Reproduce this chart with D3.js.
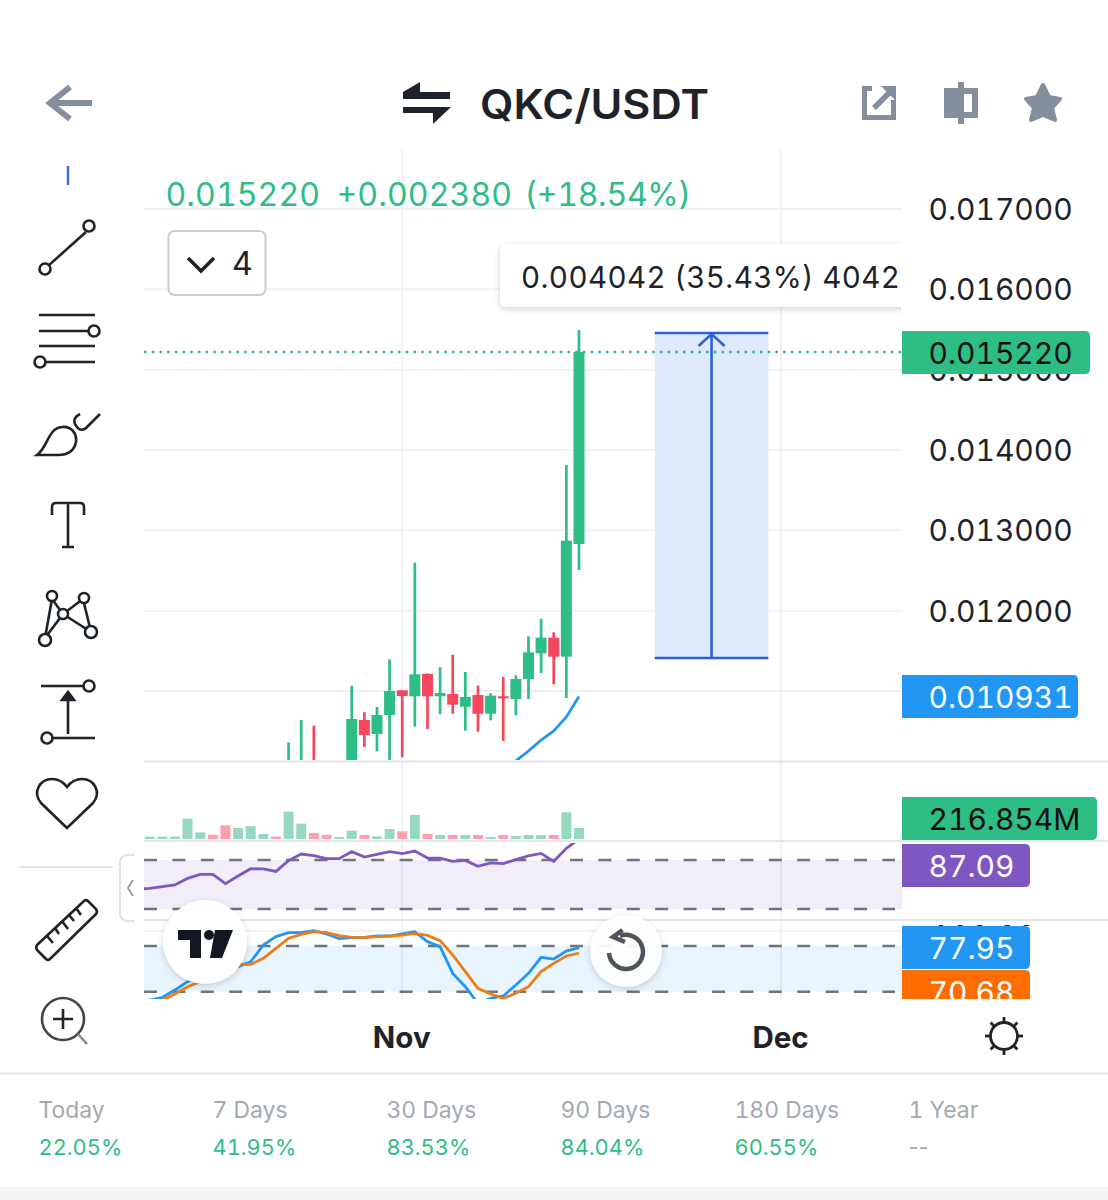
<!DOCTYPE html>
<html><head><meta charset="utf-8">
<script src="https://cdn.jsdelivr.net/npm/d3@7"></script>
<style>html,body{margin:0;padding:0;background:#fff}svg{display:block}text{font-family:Inter,"Noto Sans",sans-serif;font-variant-numeric:tabular-nums}</style>
</head><body><svg id="c" width="1108" height="1200"></svg>
<script>
// ---- data ----
const symbol = "QKC/USDT";
const headerParts = ["0.015220","+0.002380","(+18.54%)"];
const measureText = "0.004042 (35.43%) 4042";
const candleIndex = [11,12,13,16,17,18,19,20,21,22,23,24,25,26,27,28,29,30,31,32,33,34];
const opens  = [.0100,.0100,.0105,.0100,.010639,.010465,.010701,.011009,.010934,.011212,.010934,.010963,.010804,.010950,.010717,.010934,.010900,.011149,.011469,.011664,.011427,.012830];
const closes = [.0101,.0102,.0101,.010651,.010452,.010701,.011000,.010938,.011208,.010934,.010975,.010830,.010925,.010717,.010942,.010909,.011149,.011482,.011664,.011427,.012871,.015220];
const highs  = [.010361,.010639,.010568,.011066,.010735,.010801,.011395,.011009,.012597,.011220,.011295,.011452,.011237,.011066,.010971,.011174,.011195,.011681,.011900,.011731,.013813,.015494];
const lows   = [.0099,.0099,.0099,.0099,.010303,.010249,.0099,.010175,.010556,.010527,.010710,.010717,.010506,.010493,.010635,.010378,.010698,.010900,.011224,.011083,.010913,.012506];
const emaIndex = [29,30,31,32,33,34];
const emaValues = [.010129,.010253,.010390,.010502,.010676,.010931];
const volumes = [46,46,46,400,131,85,269,217,256,99,46,539,302,118,85,39,164,79,53,197,151,473,99,79,79,79,79,39,79,59,79,79,79,526,216.854];
const volumeUp = [1,1,1,1,1,0,0,1,1,1,0,1,1,0,0,1,1,0,1,1,0,1,0,1,0,1,0,1,0,1,1,1,0,1,1];
const rsiValues = [46.1,46.9,48.2,49.6,55.0,58.3,58.3,50.7,56.9,62.9,62.7,60.7,69.5,74.9,73.5,71.1,71.1,76.8,72.4,74.6,76.8,75.2,77.3,71.6,71.6,68.9,69.7,64.8,67.6,67.0,70.3,73.3,75.4,68.9,79.5,87.09];
const stochK = [2.5,9.1,12.6,22.2,33.2,39.7,45,49.4,52.9,59.4,81.3,92.3,97.5,97.5,100.1,95.8,89.6,90.9,91.4,93.1,93.1,95.8,98.8,85.7,79.1,44.1,26.6,4.7,11.3,14.4,28.8,44.1,65.1,62.9,73.4,77.95];
const stochD = [0.4,4.7,9.1,17,26.6,33.2,39.7,46.3,55.1,55.9,63.8,76.9,90.1,95.3,98.8,97.5,93.6,91.4,90.9,92.3,93.1,94.4,96.6,94,87,68.2,46.3,24.4,17,11.3,17.9,26.6,46.3,57.2,66.9,70.68];
const priceTicks = [.017,.016,.015,.014,.013,.012];
const priceTicks2 = [.011];
const timeTicks = [20,50];
const timeLabels = ["Nov","Dec"];
const periods = ["Today","7 Days","30 Days","90 Days","180 Days","1 Year"];
const periodValues = ["22.05%","41.95%","83.53%","84.04%","60.55%","--"];
const measureFrom = .011411, measureTo = .015456;
const lastPrice = .01522;

const UP="#2ebd85", DOWN="#f6465d", GRID="#f0f1f4", SEP="#e4e5ec", DARK="#1e2329", GRAY="#848e9c";
const svg=d3.select("#c");
const defs=svg.append("defs");
function clip(id,x,y,w,h){defs.append("clipPath").attr("id",id).append("rect").attr("x",x).attr("y",y).attr("width",w).attr("height",h);}
clip("cMain",144,150,758,610);clip("cVol",144,762,758,78);clip("cRsi",144,843,758,76);clip("cSto",144,922,758,77);
clip("cOrange",902,960,130,39);clip("cTick100",902,921,130,5);clip("cTool",480,230,421,90);
const sh=defs.append("filter").attr("id","sh").attr("x","-30%").attr("y","-30%").attr("width","160%").attr("height","160%");
sh.append("feDropShadow").attr("dx",0).attr("dy",2).attr("stdDeviation",3).attr("flood-color","#000").attr("flood-opacity",.18);

// ---- scales ----
const x=d3.scaleLinear().domain([0,50]).range([149.7,781]);
const yP=d3.scaleLinear().domain([.017,.011]).range([209,691]);
const yV=d3.scaleLinear().domain([0,216.854]).range([839,828]);
const yR=d3.scaleLinear().domain([70,30]).range([860,909]);
const yS=d3.scaleLinear().domain([80,20]).range([946,991.7]);

// ---- grid ----
const gridG=svg.append("g");
gridG.selectAll("line.v").data(timeTicks).join("line").attr("x1",d=>x(d)).attr("x2",d=>x(d)).attr("y1",150).attr("y2",999).attr("stroke",GRID).attr("stroke-width",2);
gridG.selectAll("line.h").data(priceTicks.concat(priceTicks2)).join("line").attr("class","h").attr("x1",144).attr("x2",902).attr("y1",d=>yP(d)).attr("y2",d=>yP(d)).attr("stroke",GRID).attr("stroke-width",2);
gridG.append("line").attr("x1",144).attr("x2",902).attr("y1",yS(100)).attr("y2",yS(100)).attr("stroke",GRID).attr("stroke-width",2);

// ---- measure tool ----
const mX0=x(40),mX1=x(49),mXc=(mX0+mX1)/2, mTop=yP(measureTo), mB=yP(measureFrom);
const mT=svg.append("g");
mT.append("rect").attr("x",mX0).attr("width",mX1-mX0).attr("y",mTop).attr("height",mB-mTop).attr("fill","#dfe9fc");
[mTop,mB].forEach(v=>mT.append("line").attr("x1",mX0).attr("x2",mX1).attr("y1",v).attr("y2",v).attr("stroke","#2c62d6").attr("stroke-width",2.6));
mT.append("line").attr("x1",mXc).attr("x2",mXc).attr("y1",mTop).attr("y2",mB).attr("stroke","#2c62d6").attr("stroke-width",2.6);
mT.append("path").attr("d",`M${mXc-13},${mTop+13}L${mXc},${mTop+1}L${mXc+13},${mTop+13}`).attr("fill","none").attr("stroke","#2c62d6").attr("stroke-width",2.6);

// ---- tooltip ----
const tg=svg.append("g");
tg.append("g").attr("clip-path","url(#cTool)").append("rect").attr("x",500).attr("y",244).attr("width",440).attr("height",63).attr("rx",6).attr("fill","#fff").attr("filter","url(#sh)");
tg.append("text").text(measureText).attr("x",521).attr("y",288).attr("font-size",29.5).attr("fill",DARK).attr("textLength",379);

// ---- candles ----
const candles=candleIndex.map((d,i)=>({i:d,o:opens[i],c:closes[i],h:highs[i],l:lows[i]}));
const cg=svg.append("g").attr("clip-path","url(#cMain)");
const col=d=>d.c>=d.o?UP:DOWN;
cg.selectAll("line.w").data(candles).join("line").attr("x1",d=>x(d.i)).attr("x2",d=>x(d.i)).attr("y1",d=>yP(d.h)).attr("y2",d=>yP(d.l)).attr("stroke",col).attr("stroke-width",2.7);
cg.selectAll("rect.b").data(candles.filter(d=>d.i>=16)).join("rect").attr("x",d=>x(d.i)-5.5).attr("width",11).attr("y",d=>yP(Math.max(d.o,d.c))).attr("height",d=>Math.max(1.5,Math.abs(yP(d.o)-yP(d.c)))).attr("fill",col);
cg.append("path").attr("d",d3.line().x((d,i)=>x(emaIndex[i])).y(d=>yP(d))(emaValues)).attr("fill","none").attr("stroke","#2196f3").attr("stroke-width",2.8);
svg.append("line").attr("x1",144).attr("x2",902).attr("y1",yP(lastPrice)).attr("y2",yP(lastPrice)).attr("stroke",UP).attr("stroke-width",2.4).attr("stroke-dasharray","2.5 5.2");

// ---- volume ----
svg.append("g").attr("clip-path","url(#cVol)").selectAll("rect").data(volumes).join("rect")
 .attr("x",(d,i)=>x(i)-5).attr("width",10).attr("y",d=>yV(d)).attr("height",d=>yV(0)-yV(d))
 .attr("fill",(d,i)=>volumeUp[i]?"#97d9bf":"#fb9fac");

// ---- RSI ----
svg.append("rect").attr("x",144).attr("width",758).attr("y",yR(70)).attr("height",yR(30)-yR(70)).attr("fill","#7e57c2").attr("opacity",.1);
[70,30].forEach(v=>svg.append("line").attr("x1",144).attr("x2",895).attr("y1",yR(v)).attr("y2",yR(v)).attr("stroke","#70737e").attr("stroke-width",2.5).attr("stroke-dasharray","13 15.4"));
const lineFrom=a=>d3.line().x((d,i)=>x(i-1)).y(d=>d)(a);
svg.append("g").attr("clip-path","url(#cRsi)").append("path").attr("d",lineFrom(rsiValues.map(v=>yR(v)))).attr("fill","none").attr("stroke","#7e57c2").attr("stroke-width",2.8);

// ---- Stochastic ----
svg.append("rect").attr("x",144).attr("width",758).attr("y",yS(80)).attr("height",yS(20)-yS(80)).attr("fill","#2196f3").attr("opacity",.1);
[80,20].forEach(v=>svg.append("line").attr("x1",144).attr("x2",895).attr("y1",yS(v)).attr("y2",yS(v)).attr("stroke","#70737e").attr("stroke-width",2.5).attr("stroke-dasharray","13 15.4"));
const sg=svg.append("g").attr("clip-path","url(#cSto)");
sg.append("path").attr("d",lineFrom(stochK.map(v=>yS(v)))).attr("fill","none").attr("stroke","#2196f3").attr("stroke-width",2.8);
sg.append("path").attr("d",lineFrom(stochD.map(v=>yS(v)))).attr("fill","none").attr("stroke","#ef7d17").attr("stroke-width",2.8);

// ---- separators ----
[[144,1108,761.5],[144,1108,841],[144,1108,920],[0,1108,1073.5]].forEach(s=>svg.append("line").attr("x1",s[0]).attr("x2",s[1]).attr("y1",s[2]).attr("y2",s[2]).attr("stroke",SEP).attr("stroke-width",2));
svg.append("rect").attr("x",0).attr("y",1187).attr("width",1108).attr("height",13).attr("fill","#f5f5f5");

// ---- axes ----
const fmt=d3.format(".6f");
const axisP=d3.axisRight(yP).tickValues(priceTicks).tickSize(0).tickPadding(26.5).tickFormat(fmt);
const ag=svg.append("g").attr("transform","translate(902,1)").call(axisP);
ag.select(".domain").remove();
ag.selectAll("text").attr("font-size",30).attr("fill",DARK).style("font-family","Inter");
const axisT=d3.axisBottom(x).tickValues(timeTicks).tickSize(0).tickPadding(0).tickFormat((d,i)=>timeLabels[i]);
const at=svg.append("g").attr("transform","translate(-1,1027.5)").call(axisT);
at.select(".domain").remove();
at.selectAll("text").attr("font-size",29.5).attr("font-weight",700).attr("fill",DARK).style("font-family","Inter");
svg.append("g").attr("clip-path","url(#cTick100)").append("text").text("100.00").attr("x",931).attr("y",947).attr("font-size",30).attr("fill",DARK);

// ---- price labels ----
function tag(xx,yy,w,h,fill,txt,tc,tx,clipId){
 const g=svg.append("g"); if(clipId) g.attr("clip-path",`url(#${clipId})`);
 g.append("path").attr("d",`M${xx},${yy}H${xx+w-5}Q${xx+w},${yy} ${xx+w},${yy+5}V${yy+h-5}Q${xx+w},${yy+h} ${xx+w-5},${yy+h}H${xx}Z`).attr("fill",fill);
 g.append("text").text(txt).attr("x",tx).attr("y",yy+h/2+11).attr("font-size",30).attr("fill",tc);
}
tag(902,331,188,43,UP,"0.015220","#111",928.5);
tag(902,675,176,43,"#2196f3","0.010931","#fff",928.5);
tag(902,797,195,43,UP,"216.854M","#111",928.5);
tag(902,844,128,43,"#7e57c2","87.09","#fff",928.5);
tag(902,926,128,43,"#2196f3","77.95","#fff",928.5);
tag(902,970,128,43,"#ff6d00","70.68","#fff",928.5,"cOrange");

// ---- header ----
const headerX=[165.5,336.5,524.5], headerW=[154.5,175.5,166.5];
svg.append("g").selectAll("text").data(headerParts).join("text").text(d=>d).attr("x",(d,i)=>headerX[i]).attr("y",206).attr("font-size",32).attr("fill",UP).attr("textLength",(d,i)=>headerW[i]);
svg.append("text").text(symbol).attr("x",480).attr("y",118.5).attr("font-size",41).attr("font-weight",600).attr("fill",DARK).attr("textLength",229).attr("lengthAdjust","spacingAndGlyphs");

// collapse "4" box
svg.append("rect").attr("x",168.5).attr("y",231).attr("width",97).attr("height",64).attr("rx",6).attr("fill","#fff").attr("stroke","#c9ccd1").attr("stroke-width",2);
svg.append("path").attr("d","M188,258L201,271L214,258").attr("fill","none").attr("stroke",DARK).attr("stroke-width",3.5);
svg.append("text").text("4").attr("x",232).attr("y",275).attr("font-size",32).attr("fill",DARK);

// ---- top icons ----
const ic=svg.append("g");
ic.append("path").attr("d","M92,103H50M70,87L50,103L70,119").attr("fill","none").attr("stroke",GRAY).attr("stroke-width",6);
ic.append("path").attr("d","M403,99H450V92H420V82L403,92ZM403,107H451L433,124V113H403Z").attr("fill",DARK);
ic.append("path").attr("d","M872,88.5H864.5V117.5H893.5V100").attr("fill","none").attr("stroke",GRAY).attr("stroke-width",5);
ic.append("path").attr("d","M874,108L890,92").attr("stroke",GRAY).attr("stroke-width",5.5);
ic.append("path").attr("d","M881,86H896V101Z").attr("fill",GRAY);
ic.append("path").attr("fill-rule","evenodd").attr("d","M958,82H964V88H978V118H964V124H958V118H944V88H958ZM964,94V112H972V94Z").attr("fill",GRAY);
ic.append("path").attr("d","M1043,85L1049,97L1060,99L1052,108L1055,120L1043,115L1031,120L1034,108L1026,99L1037,97Z").attr("fill",GRAY).attr("stroke",GRAY).attr("stroke-width",4).attr("stroke-linejoin","round");

// ---- left toolbar ----
const tb=svg.append("g").attr("fill","none").attr("stroke",DARK).attr("stroke-width",2.6);
const circ=(cx,cy,r=5.5)=>tb.append("circle").attr("cx",cx).attr("cy",cy).attr("r",r).attr("fill","#fff");
svg.append("line").attr("x1",68).attr("x2",68).attr("y1",166).attr("y2",185).attr("stroke","#3b6fd6").attr("stroke-width",2.5);
tb.append("path").attr("d","M48,266L86,232");circ(45,269);circ(89,226);
tb.append("path").attr("d","M39,315H95M39,331H88M39,346H95M45,362H95");circ(94,331);circ(40,362);
tb.append("path").attr("d","M37,455C48,447 48,428 62,427C72,426 77,434 76,442C74,452 66,455 58,455ZM80,414C73,418 73,422 77,427C80,431 84,430 86,428L100,414");
tb.append("path").attr("d","M52,515V507Q52,503 56,503H80Q84,503 84,507V515M68,503V547M62,547H74");
tb.append("path").attr("d","M52,599L45,638M52,599L63,614M83,599L63,614M83,599L91,632M63,614L91,632M63,614L45,638");circ(52,596,5);circ(84,598,5);circ(63,614,5);circ(91,632,6);circ(45,640,6);
tb.append("path").attr("d","M41,686H85M52,738H95M68,734V698");circ(89,686);circ(47,738);
tb.append("path").attr("d","M68,692L62,700H74Z").attr("fill",DARK);
tb.append("path").attr("d","M67,828L41,803C32,792 40,779 52,779C60,779 64,783 67,787C70,783 74,779 82,779C94,779 102,792 93,803Z");
svg.append("line").attr("x1",20).attr("x2",113).attr("y1",867).attr("y2",867).attr("stroke",SEP).attr("stroke-width",2);
tb.append("path").attr("d","M37,945L84,901Q86,899 88,901L96,909Q98,912 96,914L50,959Q48,961 46,959L38,951Q35,948 37,945Z");
tb.append("path").attr("d","M47,936L53,943M55,928L59,934M62,921L68,929M69,915L74,921M76,908L81,915");
tb.append("circle").attr("cx",63).attr("cy",1019).attr("r",21).attr("stroke","#444");
tb.append("path").attr("d","M53,1019H73M63,1009V1029");
tb.append("path").attr("d","M78,1034L87,1044").attr("stroke","#888");
// collapse tab
svg.append("path").attr("d","M135,855H128Q120,855 120,863V913Q120,921 128,921H135").attr("fill","#fff").attr("stroke","#e0e2e6").attr("stroke-width",2);
svg.append("path").attr("d","M133,880L128,888L133,896").attr("fill","none").attr("stroke","#9aa3ad").attr("stroke-width",2);

// ---- floating buttons ----
svg.append("circle").attr("cx",205).attr("cy",942).attr("r",42).attr("fill","#fff").attr("filter","url(#sh)");
svg.append("path").attr("d","M178,930H201V958H190V940H178ZM215,930H233L222,958H210Z").attr("fill","#131722");
svg.append("circle").attr("cx",209).attr("cy",935).attr("r",5).attr("fill","#131722");
svg.append("circle").attr("cx",626).attr("cy",951).attr("r",36).attr("fill","#fff").attr("fill-opacity",.92).attr("filter","url(#sh)");
svg.append("path").attr("d","M620,936A17,17 0 1 1 609,953").attr("fill","none").attr("stroke","#50535e").attr("stroke-width",4.5);
svg.append("path").attr("d","M622.5,930L613,937L625,942").attr("fill","none").attr("stroke","#50535e").attr("stroke-width",4.5);

// sun
const sun=svg.append("g").attr("transform","translate(1004,1036)").attr("stroke",DARK).attr("fill","none").attr("stroke-width",2.8);
sun.append("circle").attr("r",13.5);
d3.range(8).forEach(k=>{const a=k*Math.PI/4;sun.append("line").attr("x1",13.5*Math.cos(a)).attr("y1",13.5*Math.sin(a)).attr("x2",19*Math.cos(a)).attr("y2",19*Math.sin(a));});

// ---- bottom stats ----
const colX=d3.scaleLinear().domain([0,5]).range([38.5,908.5]);
svg.append("g").selectAll("text").data(periods).join("text").text(d=>d).attr("x",(d,i)=>colX(i)).attr("y",1117.5).attr("font-size",22.9).attr("fill","#a3a9b3");
svg.append("g").selectAll("text").data(periodValues).join("text").text(d=>d).attr("x",(d,i)=>colX(i)).attr("y",1154.5).attr("font-size",21.8).attr("fill",d=>d==="--"?"#a3a9b3":UP).style("font-variant-numeric",d=>d==="--"?"normal":"tabular-nums");
</script></body></html>
